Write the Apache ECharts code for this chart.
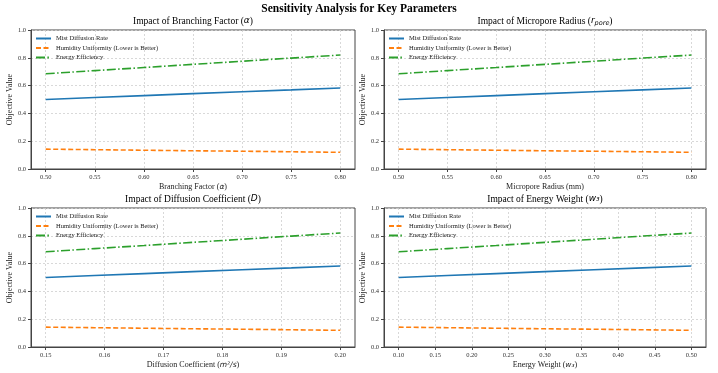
<!DOCTYPE html>
<html lang="en">
<head>
    <meta charset="UTF-8">
    <title>Sensitivity Analysis for Key Parameters</title>
    <script type="text/javascript" src="https://cdn.jsdelivr.net/npm/echarts@6.0.0/dist/echarts.min.js"></script>
    <style type="text/css">
        html, body {
            margin: 0;
            padding: 0;
            background: #fff;
        }
        #echarts {
            width: 718px;
            height: 373px;
        }
    </style>
</head>
<body>

<div id="echarts"></div>

<script type="text/javascript">
    // sampled x positions of each sweep
    var alphaX  = [0.50, 0.55, 0.60, 0.65, 0.70, 0.75, 0.80];
    var radiusX = [0.50, 0.55, 0.60, 0.65, 0.70, 0.75, 0.80];
    var diffX   = [0.150, 0.1583, 0.1667, 0.175, 0.1833, 0.1917, 0.200];
    var weightX = [0.10, 0.1667, 0.2333, 0.30, 0.3667, 0.4333, 0.50];

    // objective values (same in every panel)
    var mistRate   = [0.500, 0.514, 0.528, 0.542, 0.556, 0.569, 0.583];
    var humidity   = [0.143, 0.139, 0.135, 0.131, 0.128, 0.124, 0.120];
    var energyEff  = [0.685, 0.708, 0.730, 0.753, 0.775, 0.798, 0.820];

    // tick labels
    var alphaTicks  = [0.50, 0.55, 0.60, 0.65, 0.70, 0.75, 0.80];
    var radiusTicks = [0.50, 0.55, 0.60, 0.65, 0.70, 0.75, 0.80];
    var diffTicks   = [0.15, 0.16, 0.17, 0.18, 0.19, 0.20];
    var weightTicks = [0.10, 0.15, 0.20, 0.25, 0.30, 0.35, 0.40, 0.45, 0.50];

    var seriesNames = ['Mist Diffusion Rate', 'Humidity Uniformity (Lower is Better)', 'Energy Efficiency'];
    var colors = ['#1f77b4', '#ff7f0e', '#2ca02c'];
    var dashes = ['solid', [5, 2.5], [9, 2.4, 1.5, 2.4]];

    var serif = '"Liberation Serif", "DejaVu Serif", serif';
    var mathRich = {
        n: {fontFamily: serif, fontSize: 8, color: '#222'},
        m: {fontFamily: 'DejaVu Sans', fontStyle: 'italic', fontSize: 7.5, color: '#222'}
    };
    var titleRich = {
        n: {fontFamily: serif, fontSize: 9.5, color: '#111'},
        m: {fontFamily: 'DejaVu Sans', fontStyle: 'italic', fontSize: 9, color: '#111'},
        s: {fontFamily: 'DejaVu Sans', fontStyle: 'italic', fontSize: 6.5, color: '#111', padding: [5, 0, 0, 0]}
    };

    var panels = [
        {x: alphaX, ticks: alphaTicks, min: 0.485, max: 0.815, dec: 2,
         title: '{n|Impact of Branching Factor (}{m|α}{n|)}',
         xname: '{n|Branching Factor (}{m|α}{n|)}',
         grid: {left: 31, top: 30, width: 324, height: 139}},
        {x: radiusX, ticks: radiusTicks, min: 0.485, max: 0.815, dec: 2,
         title: '{n|Impact of Micropore Radius (}{m|r}{s|pore}{n|)}',
         xname: '{n|Micropore Radius (mm)}',
         grid: {left: 384, top: 30, width: 322, height: 139}},
        {x: diffX, ticks: diffTicks, min: 0.1475, max: 0.2025, dec: 2,
         title: '{n|Impact of Diffusion Coefficient (}{m|D}{n|)}',
         xname: '{n|Diffusion Coefficient (}{m|m²/s}{n|)}',
         grid: {left: 31, top: 208, width: 324, height: 139}},
        {x: weightX, ticks: weightTicks, min: 0.08, max: 0.52, dec: 2,
         title: '{n|Impact of Energy Weight (}{m|w₃}{n|)}',
         xname: '{n|Energy Weight (}{m|w₃}{n|)}',
         grid: {left: 384, top: 208, width: 322, height: 139}}
    ];

    var grids = [], xAxes = [], yAxes = [], series = [], legends = [], graphics = [];
    var values = [mistRate, humidity, energyEff];

    panels.forEach(function (p, i) {
        grids.push({
            left: p.grid.left, top: p.grid.top, width: p.grid.width, height: p.grid.height,
            show: true, borderColor: '#444', borderWidth: 1, backgroundColor: 'transparent'
        });
        xAxes.push({
            type: 'value', gridIndex: i, min: p.min, max: p.max,
            name: p.xname, nameLocation: 'middle', nameGap: 14,
            nameTextStyle: {rich: mathRich},
            axisLine: {show: true, onZero: false, lineStyle: {color: '#444', width: 1}},
            axisTick: {show: true, customValues: p.ticks, length: 3, lineStyle: {color: '#444'}},
            axisLabel: {
                customValues: p.ticks, fontFamily: serif, fontSize: 6.5, color: '#333', margin: 5,
                formatter: function (v) { return v.toFixed(p.dec); }
            },
            splitLine: {show: true, lineStyle: {color: '#cfcfcf', type: [2, 2], width: 0.8}}
        });
        yAxes.push({
            type: 'value', gridIndex: i, min: 0, max: 1, interval: 0.2,
            name: 'Objective Value', nameLocation: 'middle', nameGap: 16,
            nameTextStyle: {fontFamily: serif, fontSize: 8, color: '#222'},
            axisLine: {show: true, lineStyle: {color: '#444', width: 1}},
            axisTick: {show: true, length: 3, lineStyle: {color: '#444'}},
            axisLabel: {
                fontFamily: serif, fontSize: 6.5, color: '#333', margin: 5,
                formatter: function (v) { return v.toFixed(1); }
            },
            splitLine: {show: true, lineStyle: {color: '#cfcfcf', type: [2, 2], width: 0.8}}
        });
        seriesNames.forEach(function (name, k) {
            series.push({
                name: name, type: 'line', xAxisIndex: i, yAxisIndex: i,
                symbol: 'none', showSymbol: false, silent: true, animation: false,
                data: p.x.map(function (x, j) { return [x, values[k][j]]; }),
                lineStyle: {color: colors[k], width: 1.6, type: dashes[k]},
                itemStyle: {color: colors[k]}
            });
        });
        legends.push({
            data: seriesNames, orient: 'vertical', padding: 0,
            left: p.grid.left + 4, top: p.grid.top + 5,
            itemWidth: 15, itemHeight: 8, itemGap: 2.5,
            itemStyle: {opacity: 0},
            textStyle: {fontFamily: serif, fontSize: 6.5, color: '#222'},
            selectedMode: false
        });
        graphics.push({
            type: 'text',
            x: p.grid.left + p.grid.width / 2,
            y: p.grid.top - 9,
            style: {text: p.title, rich: titleRich, align: 'center', verticalAlign: 'middle'}
        });
    });

    var myChart = echarts.init(document.getElementById('echarts'), null, {renderer: 'canvas'});

    option = {
        animation: false,
        backgroundColor: '#fff',
        title: {
            text: 'Sensitivity Analysis for Key Parameters',
            left: 'center', top: 3, padding: 0,
            textStyle: {fontFamily: serif, fontSize: 11.5, fontWeight: 'bold', color: '#000'}
        },
        legend: legends,
        grid: grids,
        xAxis: xAxes,
        yAxis: yAxes,
        series: series,
        graphic: graphics
    };
    myChart.setOption(option);
</script>

</body>
</html>
